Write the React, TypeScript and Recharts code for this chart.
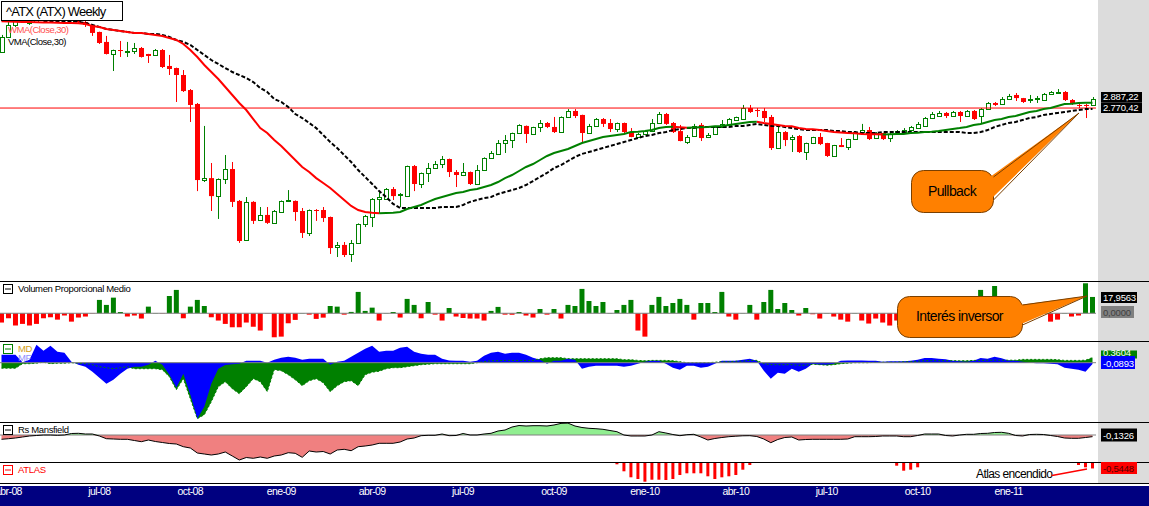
import React from "react";
import {
  Area,
  Bar,
  Cell,
  ComposedChart,
  Line,
  ReferenceLine,
  XAxis,
  YAxis,
} from "recharts";

// weekly candles of ^ATX, first bar = week of Monday 31 Mar 2008
const firstWeek = "2008-03-31";
const monthNames = ["ene", "feb", "mar", "abr", "may", "jun", "jul", "ago", "sep", "oct", "nov", "dic"];

const opens = [
  3591, 3850, 4070, 4203, 4108, 4126, 4184, 4443, 4322, 4243,
  4108, 4164, 4126, 4051, 3940, 3762, 3558, 3624, 3591, 3608,
  3658, 3558, 3542, 3624, 3366, 3334, 3228, 3011, 2823, 1985,
  2003, 1843, 1994, 2089, 1802, 1504, 1794, 1650, 1689, 1628,
  1712, 1810, 1802, 1720, 1554, 1728, 1728, 1673, 1456, 1470,
  1410, 1484, 1620, 1673, 1818, 1818, 1904, 1852, 1843, 2118,
  1949, 2051, 2098, 2138, 2188, 2060, 2032, 2060, 1949, 2079,
  2198, 2240, 2356, 2389, 2468, 2550, 2457, 2538, 2585, 2538,
  2479, 2658, 2733, 2683, 2468, 2550, 2633, 2585, 2514, 2585,
  2479, 2423, 2457, 2490, 2585, 2695, 2585, 2490, 2367, 2434,
  2562, 2423, 2457, 2538, 2562, 2621, 2633, 2770, 2745, 2733,
  2658, 2302, 2479, 2400, 2434, 2260, 2356, 2423, 2356, 2219,
  2334, 2313, 2400, 2479, 2502, 2411, 2468, 2411, 2479, 2479,
  2502, 2525, 2550, 2645, 2670, 2708, 2670, 2720, 2670, 2733,
  2670, 2757, 2836, 2823, 2888, 2943, 2901, 2886, 2888, 2875,
  2957, 2984, 2984, 2875, 2810, 2810, 2810,
];
const highs = [
  3886, 4126, 4282, 4282, 4203, 4223, 4402, 4540, 4361, 4282,
  4203, 4203, 4164, 4060, 3945, 3868, 3630, 3779, 3762, 3744,
  3675, 3560, 3641, 3641, 3542, 3340, 3303, 3025, 2836, 2550,
  2148, 2000, 2229, 2158, 1810, 1835, 1800, 1752, 1752, 1728,
  1806, 1895, 1806, 1744, 1732, 1735, 1752, 1676, 1490, 1490,
  1504, 1624, 1689, 1826, 1878, 1913, 1922, 1869, 2122, 2128,
  2055, 2148, 2168, 2219, 2192, 2079, 2148, 2065, 2128, 2205,
  2270, 2389, 2445, 2472, 2570, 2555, 2540, 2621, 2597, 2658,
  2665, 2757, 2757, 2686, 2574, 2645, 2645, 2633, 2590, 2590,
  2525, 2468, 2502, 2633, 2720, 2708, 2597, 2562, 2445, 2574,
  2585, 2468, 2550, 2621, 2645, 2662, 2810, 2810, 2770, 2770,
  2683, 2538, 2490, 2445, 2445, 2360, 2425, 2468, 2358, 2336,
  2411, 2402, 2490, 2574, 2538, 2479, 2470, 2479, 2502, 2525,
  2550, 2597, 2658, 2720, 2733, 2720, 2733, 2733, 2745, 2745,
  2770, 2849, 2849, 2915, 2957, 2970, 2903, 2943, 2929, 2970,
  2997, 3025, 2997, 2888, 2849, 2823, 2915,
];
const lows = [
  3575, 3832, 4032, 4108, 4070, 4108, 4164, 4282, 4203, 4126,
  4089, 4089, 4032, 3868, 3727, 3550, 3288, 3509, 3509, 3558,
  3500, 3413, 3525, 3334, 3228, 2849, 2984, 2597, 1886, 1967,
  1720, 1658, 1949, 1752, 1484, 1497, 1620, 1643, 1620, 1620,
  1705, 1802, 1643, 1518, 1532, 1643, 1635, 1410, 1390, 1390,
  1359, 1477, 1597, 1597, 1705, 1812, 1810, 1752, 1835, 1886,
  1913, 1967, 2089, 2098, 2013, 1922, 2022, 1940, 1940, 2070,
  2190, 2229, 2250, 2302, 2460, 2356, 2445, 2479, 2525, 2468,
  2468, 2650, 2645, 2356, 2457, 2538, 2538, 2479, 2479, 2468,
  2420, 2415, 2445, 2485, 2574, 2562, 2468, 2375, 2345, 2430,
  2378, 2411, 2445, 2535, 2560, 2609, 2630, 2708, 2658, 2597,
  2281, 2298, 2323, 2260, 2250, 2178, 2345, 2334, 2209, 2209,
  2312, 2281, 2395, 2468, 2389, 2405, 2389, 2367, 2457, 2470,
  2490, 2514, 2545, 2633, 2665, 2645, 2665, 2597, 2665, 2621,
  2585, 2750, 2797, 2820, 2875, 2862, 2836, 2836, 2836, 2870,
  2950, 2970, 2862, 2810, 2770, 2645, 2805,
];
const closes = [
  3850, 4070, 4203, 4126, 4184, 4184, 4361, 4322, 4243, 4145,
  4164, 4126, 4070, 3922, 3744, 3558, 3624, 3608, 3608, 3658,
  3509, 3525, 3624, 3350, 3319, 3228, 2997, 2810, 1985, 2003,
  1843, 1994, 2089, 1794, 1497, 1794, 1643, 1689, 1628, 1720,
  1802, 1812, 1712, 1554, 1728, 1720, 1665, 1449, 1470, 1403,
  1484, 1620, 1681, 1818, 1835, 1904, 1843, 1861, 2118, 1949,
  2051, 2098, 2138, 2188, 2060, 2032, 2060, 1949, 2079, 2198,
  2250, 2356, 2389, 2468, 2562, 2457, 2538, 2585, 2538, 2479,
  2658, 2733, 2670, 2468, 2550, 2633, 2574, 2514, 2585, 2479,
  2423, 2457, 2490, 2585, 2695, 2574, 2479, 2378, 2423, 2550,
  2411, 2445, 2538, 2574, 2633, 2658, 2770, 2720, 2733, 2645,
  2302, 2479, 2389, 2423, 2260, 2356, 2423, 2345, 2219, 2334,
  2313, 2400, 2479, 2502, 2400, 2468, 2400, 2457, 2490, 2502,
  2538, 2574, 2645, 2695, 2708, 2670, 2720, 2670, 2733, 2633,
  2757, 2836, 2810, 2888, 2929, 2901, 2849, 2890, 2901, 2957,
  2984, 2990, 2875, 2823, 2797, 2797, 2887.22,
];

// WMA(Close,30) and VMA(Close,30) as plotted
const wma = [
  4140, 4135, 4130, 4127, 4124, 4121, 4118, 4115, 4112, 4109,
  4105, 4100, 4089, 4051, 4032, 3994, 3976, 3958, 3940, 3922,
  3920, 3904, 3886, 3868, 3832, 3796, 3727, 3624, 3509, 3381,
  3273, 3169, 3054, 2943, 2836, 2745, 2633, 2525, 2468, 2389,
  2324, 2250, 2178, 2109, 2060, 2003, 1958, 1913, 1861, 1810,
  1761, 1728, 1712, 1706, 1703, 1704, 1706, 1712, 1736, 1752,
  1769, 1794, 1818, 1835, 1852, 1869, 1878, 1895, 1904, 1922,
  1940, 1967, 2003, 2032, 2070, 2109, 2138, 2178, 2219, 2250,
  2271, 2292, 2324, 2356, 2378, 2400, 2423, 2434, 2445, 2457,
  2479, 2482, 2490, 2502, 2525, 2538, 2540, 2536, 2530, 2532,
  2535, 2538, 2545, 2550, 2562, 2574, 2585, 2597, 2600, 2585,
  2574, 2562, 2550, 2545, 2525, 2514, 2510, 2502, 2490, 2479,
  2475, 2468, 2464, 2457, 2455, 2453, 2452, 2454, 2456, 2458,
  2468, 2470, 2479, 2482, 2490, 2502, 2514, 2525, 2538, 2562,
  2574, 2597, 2621, 2633, 2658, 2670, 2695, 2720, 2733, 2757,
  2770, 2797, 2823, 2825, 2836, 2838, 2840,
];
const vma = [
  null, null, null, null, null, null, 4145, 4145, 4145, 4145,
  4145, 4126, 4108, 4070, 4032, 3994, 3976, 3958, 3940, 3922,
  3922, 3904, 3904, 3886, 3850, 3796, 3762, 3710, 3624, 3542,
  3460, 3397, 3334, 3273, 3228, 3184, 3125, 3039, 2984, 2888,
  2849, 2784, 2695, 2645, 2585, 2525, 2445, 2367, 2302, 2229,
  2158, 2079, 2013, 1949, 1886, 1835, 1777, 1744, 1744, 1744,
  1744, 1744, 1744, 1752, 1752, 1752, 1769, 1794, 1810, 1826,
  1835, 1861, 1878, 1895, 1913, 1940, 1976, 2013, 2051, 2098,
  2128, 2168, 2209, 2240, 2260, 2281, 2302, 2324, 2345, 2367,
  2389, 2411, 2434, 2445, 2468, 2479, 2502, 2514, 2525, 2525,
  2538, 2538, 2538, 2538, 2538, 2550, 2550, 2562, 2574, 2562,
  2550, 2550, 2538, 2525, 2514, 2502, 2502, 2502, 2502, 2490,
  2490, 2479, 2479, 2468, 2468, 2468, 2479, 2479, 2479, 2479,
  2479, 2479, 2479, 2479, 2479, 2479, 2479, 2479, 2468, 2468,
  2479, 2502, 2538, 2562, 2585, 2597, 2621, 2645, 2658, 2683,
  2695, 2708, 2720, 2733, 2745, 2757, 2757,
];

const volumen = [
  -10.2, -5.5, -13.5, -11.7, -13.5, -11.7, -5.5, -4.4, -7, -2.5,
  -9.2, -4.7, -3.6, -0.3, 14.7, 9.2, 17.2, 1.4, -3.6, -2.5,
  -5.8, 7.3, 0.3, -0.3, 19, 25.7, -5.5, 7.3, 14.7, 8,
  -4.4, -8, -11.7, -15.4, -15.4, -10.2, -14.7, -19, -0.3, -26.4,
  -25.7, -11, -7.3, 0.3, -1.5, -6.2, -4.8, 8, 7.3, -1.5,
  1.5, 23.5, 2.6, 6.2, -8, 0.3, 1.4, -4.7, 15.8, 9.2,
  -5.5, 12.4, -1.5, -8, 5.8, -3.6, -5.2, -5.8, -5.8, -8,
  2.6, 7, -1.5, -1.5, 1.4, -2.5, -4.7, 4.7, -1.5, 4.7,
  -5.8, 9.2, 8, 26.8, 13.5, 8, 12.4, 0.3, 3.6, 9.2,
  14.7, -19, -25.7, 9.2, 18, 8, 11.3, 15.8, 9.2, -7,
  11.3, 11.3, 1.4, 23.5, -3.6, -7, 0.3, 9.2, -7, 12.4,
  25.7, 4.7, 11.3, 3.6, -2.5, 5.8, -1.1, -5.8, 0.3, -3.6,
  -7, -9.2, 0.3, -8, -11.3, -5.8, -10.2, -13.5, -8, -5,
  -3, 2, 4, 3, -2, -4, 3, -3, 5, -2,
  25.7, 6, 30, 4, 5, -3, 0.3, -0.3, 0.3, -0.3,
  -9.2, -7, 0.3, -3.6, -2.5, 33, 17.9563,
];

const md = [
  -0.385, -0.385, -0.385, -0.07, -0.07, -0.035, 0.035, -0.07, -0.035, -0.035,
  0, -0.035, -0.07, -0.14, -0.28, -0.35, -0.42, -0.35, -0.28, -0.42,
  -0.42, -0.42, -0.42, -0.49, -0.98, -1.89, -1.12, -2.52, -3.92, -3.64,
  -2.73, -1.68, -1.33, -1.82, -2.17, -1.68, -1.12, -1.33, -2.03, -0.49,
  -0.56, -0.84, -1.19, -1.61, -1.26, -1.12, -1.4, -2.03, -1.61, -1.33,
  -1.26, -1.61, -0.84, -0.665, -0.595, -0.42, -0.35, -0.35, -0.28, -0.21,
  -0.14, -0.105, -0.07, -0.07, -0.07, -0.07, -0.07, -0.07, 0, 0.07,
  0.14, 0.14, 0.161, 0.161, 0.161, 0.161, 0.161, 0.28, 0.35, 0.35,
  0.35, 0.28, 0.28, 0.28, 0.28, 0.28, 0.28, 0.28, 0.28, 0.21,
  0.21, 0.161, 0.14, 0.161, 0.161, 0.161, 0.14, 0.07, 0, 0,
  0, 0, 0.035, 0.07, 0.07, 0.105, 0.105, 0.161, 0.161, -0.07,
  -0.14, -0.14, -0.14, -0.14, -0.175, -0.175, -0.105, -0.14, -0.175, -0.14,
  -0.07, -0.035, 0, 0, 0, 0.035, 0.035, 0.035, 0.035, 0.07,
  0.07, 0.105, 0.14, 0.14, 0.14, 0.14, 0.14, 0.14, 0.14, 0.161,
  0.161, 0.175, 0.175, 0.175, 0.175, 0.175, 0.231, 0.231, 0.231, 0.231,
  0.231, 0.21, 0.161, 0.161, 0.161, 0.175, 0.3604,
];
const mf = [
  0.56, 0.56, 0.56, 0.035, 0.21, 1.26, 0.84, 1.19, 0.77, 0.7,
  0.07, -0.14, -0.28, -0.63, -1.05, -1.47, -1.19, -0.77, -0.42, -0.28,
  -0.28, -0.14, 0.14, -0.14, -0.84, -1.75, -0.77, -2.24, -3.92, -3.08,
  -1.47, -0.42, -0.161, -0.1, -0.07, 0.14, 0.14, 0.14, 0, 0.21,
  0.35, 0.42, 0.35, 0.21, 0.28, 0.28, 0.28, -0.14, 0.07, 0.14,
  0.42, 0.7, 0.98, 1.19, 0.77, 0.84, 0.84, 1.05, 1.12, 0.77,
  0.63, 0.56, 0.56, 0.28, 0.161, 0.14, 0.14, 0.07, 0.14, 0.49,
  0.7, 0.77, 0.63, 0.7, 0.7, 0.56, 0.35, 0.21, -0.07, 0.14,
  0.14, 0.28, 0.21, -0.42, -0.28, -0.21, -0.21, -0.21, -0.21, -0.28,
  -0.21, -0.07, 0.07, 0.14, 0.14, -0.07, -0.35, -0.49, -0.21, -0.21,
  -0.35, -0.28, -0.07, 0.14, 0.14, 0.14, 0.21, 0.28, 0.14, -0.56,
  -1.12, -0.7, -0.77, -0.42, -0.63, -0.42, -0.07, -0.14, -0.14, -0.07,
  0.14, 0.161, 0.161, 0.161, 0.14, 0.14, 0.07, 0.105, 0.105, 0.105,
  0.14, 0.21, 0.329, 0.329, 0.28, 0.245, 0.14, 0.105, 0.07, 0.14,
  0.329, 0.28, 0.42, 0.315, 0.161, 0.14, 0.07, 0, -0.035, -0.035,
  -0.07, -0.105, -0.35, -0.42, -0.49, -0.63, -0.0893,
];

const rsMansfield = [
  -0.344, -0.296, -0.24, -0.16, -0.08, -0.04, 0, 0, -0.024, 0,
  0.12, 0.136, 0.08, 0.08, -0.08, -0.296, -0.32, -0.344, -0.344, -0.44,
  -0.536, -0.4, -0.52, -0.6, -0.68, -0.72, -0.936, -1.04, -1.44, -1.52,
  -1.6, -1.52, -1.36, -1.68, -2.0, -1.8, -1.864, -1.76, -1.864, -1.68,
  -1.6, -1.416, -1.464, -1.784, -1.28, -1.36, -1.32, -1.52, -1.2, -1.144,
  -1.256, -0.936, -0.88, -0.8, -0.664, -0.664, -0.664, -0.56, -0.32, -0.24,
  -0.056, -0.024, -0.024, 0.08, -0.056, -0.04, 0.12, 0, 0, 0.08,
  0.136, 0.32, 0.4, 0.64, 0.76, 0.72, 0.744, 0.744, 0.72, 0.8,
  0.93, 0.95, 0.72, 0.6, 0.536, 0.504, 0.456, 0.36, 0.264, 0,
  -0.08, -0.08, -0.08, 0, 0.264, 0.16, 0.04, -0.056, 0.024, 0.056,
  -0.16, -0.4, -0.28, -0.2, -0.136, -0.096, -0.064, -0.056, -0.12, -0.32,
  -0.616, -0.36, -0.2, -0.16, -0.4, -0.36, -0.344, -0.344, -0.344, -0.344,
  -0.344, -0.32, -0.136, -0.136, -0.136, -0.12, -0.08, -0.08, -0.08, -0.136,
  -0.136, -0.04, 0.08, 0.08, 0.08, -0.04, -0.08, 0, 0.056, 0.056,
  0.12, 0.136, 0.2, 0.216, 0.136, -0.04, -0.08, 0.04, 0.056, 0.04,
  -0.04, -0.12, -0.24, -0.264, -0.264, -0.2, -0.1326,
];

// ATLAS only fires on a few weeks: [week index, value]
const atlasSignals: [number, number][] = [
  [88, -0.13], [89, -0.83], [90, -1.43], [91, -1.6], [92, -1.87], [93, -1.67],
  [94, -1.67], [95, -1.7], [96, -1.6], [97, -1.2], [98, -1.03], [99, -1.03],
  [100, -1.03], [101, -1.33], [102, -1.6], [103, -1.43], [104, -1.33], [105, -1.2],
  [106, -0.67], [107, -0.2],
  [128, -0.27], [129, -0.77], [130, -0.67], [131, -0.43],
  [154, -0.2], [155, -0.43], [156, -0.5448],
];

const levelLine = 2770.42;
const FONT = "'Liberation Sans', Arial, sans-serif";
const CHART_W = 1151;
const MARGIN = { top: 0, right: 53, bottom: 0, left: 0 };

const WEEK_MS = 7 * 24 * 3600 * 1000;
const startMs = Date.parse(firstWeek + "T00:00:00Z");
const dates = closes.map((_, i) => new Date(startMs + i * WEEK_MS).toISOString().slice(0, 10));
const atlasByWeek = new Map(atlasSignals);

const rows = closes.map((close, i) => {
  const rising = i > 0 ? wma[i] >= wma[i - 1] : wma[1] >= wma[0];
  const nextRising = i < wma.length - 1 ? wma[i + 1] >= wma[i] : rising;
  const rs = rsMansfield[i];
  return {
    date: dates[i],
    open: opens[i],
    high: highs[i],
    low: lows[i],
    close,
    range: [lows[i], highs[i]],
    wmaUp: rising || nextRising ? wma[i] : null,
    wmaDown: !rising || !nextRising ? wma[i] : null,
    vma: vma[i],
    volume: volumen[i],
    md: md[i],
    mf: mf[i],
    rs,
    rsPos: Math.max(rs, 0),
    rsNeg: Math.min(rs, 0),
    atlas: atlasByWeek.get(i) ?? 0,
  };
});

const quarterTicks = dates.filter((d, i) => {
  if (i === 0) return false;
  const m = Number(d.slice(5, 7)) - 1;
  return m % 3 === 0 && d.slice(5, 7) !== dates[i - 1].slice(5, 7);
});
const tickLabel = (d: string) => `${monthNames[Number(d.slice(5, 7)) - 1]}-${d.slice(2, 4)}`;

const fmt = (v: number, digits: number) =>
  v.toLocaleString("es-ES", { minimumFractionDigits: digits, maximumFractionDigits: digits, useGrouping: true }).replace(/\u00a0/g, ".");

const Candle = (props: any) => {
  const { x, y, width, height, payload } = props;
  if (x == null || y == null) return null;
  const { open, close, high, low } = payload;
  const cx = Math.round(x + width / 2) + 0.5;
  const span = Math.log(high) - Math.log(low);
  const py = (p: number) => (span > 0 ? y + (height * (Math.log(high) - Math.log(p))) / span : y);
  const up = close >= open;
  const color = up ? "#008000" : "#ff0000";
  const top = py(Math.max(open, close));
  const bot = py(Math.min(open, close));
  return (
    <g>
      <line x1={cx} x2={cx} y1={y} y2={y + height} stroke={color} strokeWidth={1} />
      {up ? (
        <rect x={cx - 2} y={Math.round(top) + 0.5} width={4} height={Math.max(Math.round(bot - top), 1)} fill="#fff" stroke={color} strokeWidth={1} />
      ) : (
        <rect x={cx - 2.5} y={top} width={5} height={Math.max(bot - top, 1)} fill={color} />
      )}
    </g>
  );
};

const AxisTick = ({ x, y, payload }: any) => (
  <text x={x} y={y + 12} fill="#fff" fontSize={10.5} letterSpacing={-0.6} textAnchor="middle" fontFamily={FONT}>
    {tickLabel(payload.value)}
  </text>
);

const PanelIcon = ({ y, color }: { y: number; color: string }) => (
  <g>
    <rect x={3.5} y={y + 0.5} width={9} height={9} fill="#fff" stroke={color} />
    <line x1={5} x2={11} y1={y + 5} y2={y + 5} stroke={color} />
  </g>
);

const ValueBox = ({ y, h, w, bg, color, text }: { y: number; h: number; w: number; bg: string; color: string; text: string }) => (
  <g>
    <rect x={1101} y={y} width={w} height={h} fill={bg} />
    <text x={1103} y={y + h - 2.5} fill={color} fontSize={9.5} letterSpacing={-0.2} fontFamily={FONT}>
      {text}
    </text>
  </g>
);

const Callout = ({ x, y, w, h, tip, base, label, baseline }: any) => (
  <g>
    <rect x={x + 0.5} y={y + 0.5} width={w} height={h} rx={12} fill="#ff8000" stroke="#7a3f00" />
    <polygon points={`${x + w - 3},${base[0]} ${tip[0]},${tip[1]} ${x + w - 3},${base[1]}`} fill="#ff8000" />
    <polyline points={`${x + w + 0.5},${base[0]} ${tip[0]},${tip[1]} ${x + w + 0.5},${base[1]}`} fill="none" stroke="#7a3f00" />
    <text x={x + w / 2} y={baseline} textAnchor="middle" fontSize={14} letterSpacing={-0.6} fontFamily={FONT} fill="#000">
      {label}
    </text>
  </g>
);

export default function App() {
  const last = rows[rows.length - 1];
  return (
    <div style={{ position: "absolute", left: 0, top: 0, width: 1149, height: 506, overflow: "hidden", background: "#fff", fontFamily: FONT }}>
      <div style={{ position: "absolute", left: 1098, top: 0, width: 51, height: 484, background: "#dcdcdc" }} />
      <div style={{ position: "absolute", left: 0, top: 486, width: 1149, height: 20, background: "#000080" }} />

      <div style={{ position: "absolute", left: -2, top: 0 }}>
        <ComposedChart width={CHART_W} height={281} data={rows} margin={MARGIN}>
          <XAxis dataKey="date" hide scale="band" />
          <YAxis hide type="number" scale="log" domain={[1244, 4568]} allowDataOverflow />
          <ReferenceLine y={levelLine} stroke="#ff0000" strokeWidth={1} />
          <Line dataKey="vma" stroke="#000" strokeWidth={2} strokeDasharray="4 2" dot={false} activeDot={false} isAnimationActive={false} />
          <Line dataKey="wmaDown" stroke="#ff0000" strokeWidth={2} dot={false} activeDot={false} isAnimationActive={false} />
          <Line dataKey="wmaUp" stroke="#008000" strokeWidth={2} dot={false} activeDot={false} isAnimationActive={false} />
          <Bar dataKey="range" barSize={5} isAnimationActive={false} shape={(p: any) => <Candle {...p} />} />
        </ComposedChart>
      </div>

      <div style={{ position: "absolute", left: -2, top: 282 }}>
        <ComposedChart width={CHART_W} height={59} data={rows} margin={MARGIN}>
          <XAxis dataKey="date" hide scale="band" />
          <YAxis hide type="number" domain={[-30.5, 34.4]} allowDataOverflow />
          <Bar dataKey="volume" barSize={5} isAnimationActive={false}>
            {rows.map((r) => (
              <Cell key={r.date} fill={r.volume >= 0 ? "#008000" : "#ff0000"} />
            ))}
          </Bar>
          <ReferenceLine y={0} stroke="#808080" />
        </ComposedChart>
      </div>

      <div style={{ position: "absolute", left: -2, top: 342 }}>
        <ComposedChart width={CHART_W} height={80} data={rows} margin={MARGIN}>
          <XAxis dataKey="date" hide scale="band" />
          <YAxis hide type="number" domain={[-4.151, 1.449]} allowDataOverflow />
          <Area dataKey="md" type="linear" baseValue={0} fill="#008000" fillOpacity={1} stroke="none" isAnimationActive={false} />
          <Area dataKey="mf" type="linear" baseValue={0} fill="#0000ff" fillOpacity={1} stroke="none" isAnimationActive={false} />
          <Line dataKey="md" stroke="#008000" strokeWidth={1} strokeDasharray="2 2" dot={false} activeDot={false} isAnimationActive={false} />
          <ReferenceLine y={0} stroke="#808080" />
        </ComposedChart>
      </div>

      <div style={{ position: "absolute", left: -2, top: 423 }}>
        <ComposedChart width={CHART_W} height={39} data={rows} margin={MARGIN}>
          <XAxis dataKey="date" hide scale="band" />
          <YAxis hide type="number" domain={[-2.16, 0.96]} allowDataOverflow />
          <Area dataKey="rsPos" type="linear" baseValue={0} fill="#90ee90" fillOpacity={1} stroke="none" isAnimationActive={false} />
          <Area dataKey="rsNeg" type="linear" baseValue={0} fill="#f08080" fillOpacity={1} stroke="none" isAnimationActive={false} />
          <ReferenceLine y={0} stroke="#808080" />
          <Line dataKey="rs" stroke="#000" strokeWidth={1} dot={false} activeDot={false} isAnimationActive={false} />
        </ComposedChart>
      </div>

      <div style={{ position: "absolute", left: -2, top: 463 }}>
        <ComposedChart width={CHART_W} height={43} data={rows} margin={MARGIN}>
          <XAxis
            dataKey="date"
            scale="band"
            height={23}
            ticks={quarterTicks}
            interval={0}
            axisLine={false}
            tickLine={false}
            tickSize={0}
            tickMargin={0}
            tick={<AxisTick />}
          />
          <YAxis hide type="number" domain={[-2, 0]} allowDataOverflow />
          <Bar dataKey="atlas" fill="#ff0000" barSize={3} isAnimationActive={false} />
        </ComposedChart>
      </div>

      <svg width={1149} height={506} style={{ position: "absolute", left: 0, top: 0, pointerEvents: "none" }}>
        {[281.5, 341.5, 422.5, 462.5, 483.5].map((y) => (
          <line key={y} x1={0} x2={1149} y1={y} y2={y} stroke="#000" />
        ))}

        <rect x={1.5} y={1.5} width={121} height={19} fill="#fff" stroke="#000" />
        <text x={6} y={16} fontSize={13} letterSpacing={-0.8} fontFamily={FONT} fill="#000">^ATX (ATX) Weekly</text>
        <text x={8} y={33} fontSize={9.5} letterSpacing={-0.5} fontFamily={FONT} fill="#ff5050">WMA(Close,30)</text>
        <text x={8} y={45} fontSize={9.5} letterSpacing={-0.5} fontFamily={FONT} fill="#000">VMA(Close,30)</text>

        <PanelIcon y={284} color="#000" />
        <text x={18} y={292} fontSize={9.5} letterSpacing={-0.35} fontFamily={FONT} fill="#000">Volumen Proporcional Medio</text>
        <PanelIcon y={344} color="#008000" />
        <text x={18} y={352} fontSize={9.5} letterSpacing={-0.35} fontFamily={FONT} fill="#d4a017">MD</text>
        <text x={18} y={361} fontSize={9.5} letterSpacing={-0.35} fontFamily={FONT} fill="#9090ff">MF</text>
        <PanelIcon y={425} color="#000" />
        <text x={18} y={433} fontSize={9.5} letterSpacing={-0.35} fontFamily={FONT} fill="#000">Rs Mansfield</text>
        <PanelIcon y={465} color="#ff0000" />
        <text x={18} y={473} fontSize={9.5} letterSpacing={-0.35} fontFamily={FONT} fill="#ff0000">ATLAS</text>

        <ValueBox y={92} h={10.5} w={41} bg="#000" color="#fff" text={fmt(last.close, 2)} />
        <ValueBox y={102.5} h={10.5} w={41} bg="#000" color="#fff" text={fmt(levelLine, 2)} />
        <ValueBox y={292} h={11} w={36} bg="#000" color="#fff" text={fmt(last.volume, 4)} />
        <ValueBox y={306} h={12} w={33} bg="#808080" color="#404040" text={fmt(0, 4)} />
        <ValueBox y={350.5} h={8} w={36} bg="#008000" color="#fff" text={fmt(last.md, 4)} />
        <ValueBox y={356} h={13} w={34} bg="#0000ff" color="#fff" text={fmt(last.mf, 4)} />
        <ValueBox y={428.5} h={13} w={36} bg="#000" color="#fff" text={fmt(last.rs, 4)} />
        <ValueBox y={462} h={12} w={36} bg="#ff0000" color="#500000" text={fmt(last.atlas, 4)} />

        <Callout x={911} y={170} w={82} h={42} tip={[1079, 113]} base={[177, 200]} label="Pullback" baseline={196} />
        <Callout x={897} y={296} w={125} h={41} tip={[1087, 296]} base={[305, 325]} label="Interés inversor" baseline={321} />

        <text x={976} y={477.5} fontSize={12} letterSpacing={-0.6} fontFamily={FONT} fill="#000">Atlas encendido</text>
        <line x1={1052} y1={475.5} x2={1087} y2={469} stroke="#ff0000" strokeWidth={1.5} />
      </svg>
    </div>
  );
}
